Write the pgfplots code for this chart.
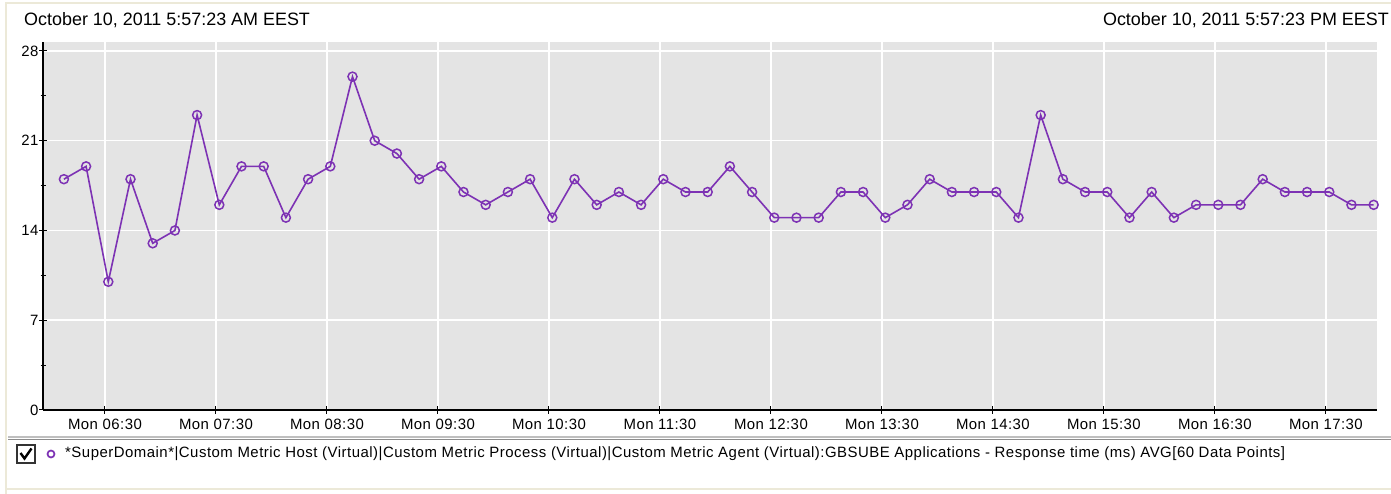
\documentclass[border=0pt]{standalone}
\usepackage{fontspec}
\setmainfont{Liberation Sans}
\usepackage{pgfplots}
\pgfplotsset{compat=1.18}
\definecolor{plotbg}{RGB}{228,228,228}
\definecolor{linepurple}{RGB}{125,50,180}
\definecolor{framecol}{RGB}{236,233,216}
\begin{document}
\begin{tikzpicture}[x=1bp,y=1bp]
\useasboundingbox (0,0) rectangle (1391,494);
\clip (0,0) rectangle (1391,494);
\fill[white] (0,0) rectangle (1391,494);
% outer frame
\draw[framecol, line width=2.5bp] (6,0) -- (6,491) -- (1391,491);
\draw[framecol, line width=2.5bp] (6,5) -- (1391,5);
% separator
\draw[gray!50, line width=1.2bp] (8,57) -- (1391,57);
\draw[gray!90, line width=1.6bp] (8,54.3) -- (1391,54.3);
% header
\node[anchor=base west, inner sep=0pt, font=\fontsize{18}{20}\selectfont] at (24,468.5) {October 10, 2011 5:57:23 AM EEST};
\node[anchor=base east, inner sep=0pt, font=\fontsize{18}{20}\selectfont] at (1389,468.5) {October 10, 2011 5:57:23 PM EEST};
\begin{axis}[
  at={(43bp,84bp)}, anchor=south west,
  scale only axis, width=1334bp, height=368bp,
  xmin=-3.5, xmax=717.6, ymin=0, ymax=28.7,
  axis background/.style={fill=plotbg},
  axis x line*=bottom, axis y line*=left,
  axis line style={black, line width=1.3bp},
  xtick={30,90,150,210,270,330,390,450,510,570,630,690},
  xticklabels={Mon 06:30,Mon 07:30,Mon 08:30,Mon 09:30,Mon 10:30,Mon 11:30,Mon 12:30,Mon 13:30,Mon 14:30,Mon 15:30,Mon 16:30,Mon 17:30},
  ytick={0,7,14,21,28},
  minor ytick={3.5,10.5,17.5,24.5},
  grid=major,
  major grid style={white, line width=1.5bp},
  tick align=center,
  major tick length=8bp, minor tick length=5bp,
  tick style={black, line width=1bp},
  /pgf/number format/assume math mode=true,
  ticklabel style={font=\fontsize{15}{17}\selectfont\addfontfeature{LetterSpace=3}},
  yticklabel style={xshift=3bp},
  xticklabel style={yshift=-1.5bp},
  clip=false,
]
\addplot[linepurple, line width=1.6bp, mark=o, mark size=4.5bp, mark options={solid, line width=1.5bp}] coordinates {
(7.8,18) (19.8,19) (31.8,10) (43.8,18) (55.8,13) (67.8,14) (79.8,23) (91.8,16) (103.8,19) (115.8,19)
(127.8,15) (139.8,18) (151.8,19) (163.8,26) (175.8,21) (187.8,20) (199.8,18) (211.8,19) (223.8,17) (235.8,16)
(247.8,17) (259.8,18) (271.8,15) (283.8,18) (295.8,16) (307.8,17) (319.8,16) (331.8,18) (343.8,17) (355.8,17)
(367.8,19) (379.8,17) (391.8,15) (403.8,15) (415.8,15) (427.8,17) (439.8,17) (451.8,15) (463.8,16) (475.8,18)
(487.8,17) (499.8,17) (511.8,17) (523.8,15) (535.8,23) (547.8,18) (559.8,17) (571.8,17) (583.8,15) (595.8,17)
(607.8,15) (619.8,16) (631.8,16) (643.8,16) (655.8,18) (667.8,17) (679.8,17) (691.8,17) (703.8,16) (715.8,16)
};
\end{axis}
% legend
\fill[white] (17,31) rectangle (35,49);
\draw[black!80, line width=1.4bp] (17,31) rectangle (35,49);
\draw[black, line width=2.4bp] (20.5,41) -- (24.5,35.5) -- (31.5,45.5);
\draw[linepurple, line width=1.7bp] (51,40) circle (3.5);
\node[anchor=west, inner sep=0pt, font=\fontsize{15}{17}\selectfont\addfontfeature{LetterSpace=3.3}] at (65,40) {*SuperDomain*|Custom Metric Host (Virtual)|Custom Metric Process (Virtual)|Custom Metric Agent (Virtual):GBSUBE Applications - Response time (ms) AVG[60 Data Points]};
\end{tikzpicture}
\end{document}
